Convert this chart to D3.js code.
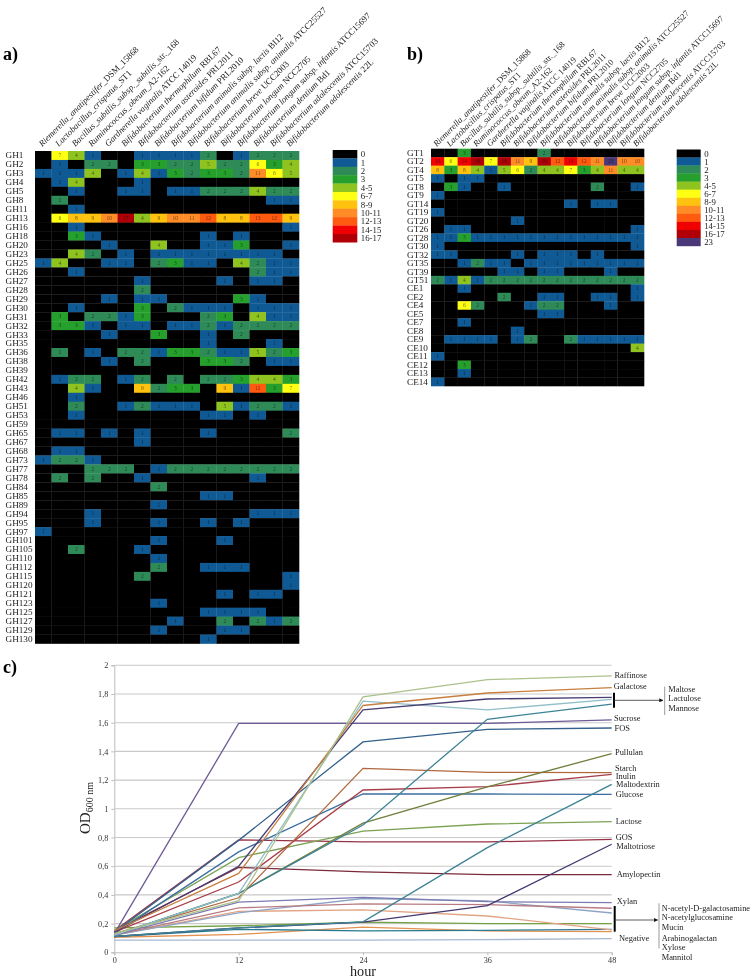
<!DOCTYPE html>
<html>
<head>
<meta charset="utf-8">
<title>Glycoside hydrolases, glycosyl transferases and growth curves</title>
<script src="https://cdn.jsdelivr.net/npm/d3@7"></script>
<style>
  html, body { margin: 0; padding: 0; background: #fff; }
  svg { display: block; filter: blur(0.3px); }
  text { font-family: "Liberation Serif", serif; fill: #222; }
</style>
</head>
<body>
<svg id="chart" width="754" height="979"></svg>
<script>
// species on the heatmap columns: italic part + plain strain part
const speciesItalic = [
  "Riemerella_anatipestifer", "Lactobacillus_crispatus", "Bacillus_subtilis_subsp._subtilis",
  "Ruminococcus_obeum", "Gardnerella vaginalis", "Bifidobacterium thermophilum",
  "Bifidobacterium asteroides", "Bifidobacterium bifidum", "Bifidobacterium animalis subsp. lactis",
  "Bifidobacterium animalis subsp. animalis", "Bifidobacterium breve", "Bifidobacterium longum",
  "Bifidobacterium longum subsp. infantis", "Bifidobacterium dentium", "Bifidobacterium adolescentis",
  "Bifidobacterium adolescentis"
];
const speciesStrain = [
  "_DSM_15868", "_ST1", "_str._168", "_A2-162", " ATCC 14019", " RBL67", " PRL2011", " PRL2010",
  " BI12", " ATCC25527", " UCC2003", " NCC2705", " ATCC15697", " Bd1", " ATCC15703", " 22L"
];

// panel a) GH families
const ghRows = [
  "GH1", "GH2", "GH3", "GH4", "GH5", "GH8", "GH11", "GH13", "GH16", "GH18", "GH20", "GH23", "GH25", "GH26",
  "GH27", "GH28", "GH29", "GH30", "GH31", "GH32", "GH33", "GH35", "GH36", "GH38", "GH39", "GH42", "GH43",
  "GH46", "GH51", "GH53", "GH59", "GH65", "GH67", "GH68", "GH73", "GH77", "GH78", "GH84", "GH85", "GH89",
  "GH94", "GH95", "GH97", "GH101", "GH105", "GH110", "GH112", "GH115", "GH120", "GH121", "GH123", "GH125",
  "GH127", "GH129", "GH130"
];
const ghValues = [
  [0,7,4,1,0,0,1,1,1,1,2,0,1,2,2,2],
  [0,1,0,2,2,0,3,3,2,2,5,2,2,6,3,4],
  [1,1,1,4,0,1,4,1,3,2,3,3,2,11,6,5],
  [0,1,4,0,0,0,1,0,0,0,0,0,0,0,0,0],
  [0,0,1,0,0,1,1,0,1,1,2,2,2,4,2,2],
  [0,2,0,0,0,0,0,0,0,0,0,0,0,0,1,1],
  [0,0,1,0,0,0,0,0,0,0,0,0,0,0,0,0],
  [0,6,8,9,10,17,4,9,10,11,12,8,8,13,12,9],
  [0,0,1,0,0,0,0,0,0,0,0,0,0,0,0,1],
  [0,0,3,1,0,0,0,0,0,0,1,0,1,0,0,0],
  [0,0,0,0,1,0,0,4,0,0,1,1,3,0,0,1],
  [0,0,4,2,0,1,0,1,1,1,1,1,1,1,1,0],
  [1,4,0,0,1,1,0,2,3,1,1,0,4,2,1,1],
  [0,0,1,0,0,0,0,0,0,0,0,0,0,2,1,1],
  [0,0,0,0,0,0,1,0,0,0,0,1,0,1,1,0],
  [0,0,0,0,0,0,2,0,0,0,0,0,0,0,0,0],
  [0,0,0,0,1,0,1,1,0,0,0,0,3,1,0,0],
  [0,0,1,0,0,0,3,0,2,1,1,1,0,1,1,1],
  [0,3,0,2,2,1,3,0,0,0,2,3,0,4,1,1],
  [0,3,3,1,0,1,1,0,1,1,2,1,2,2,2,2],
  [0,0,0,0,1,0,0,3,0,0,1,0,2,0,0,0],
  [0,0,0,0,0,0,0,0,0,0,1,0,0,0,1,0],
  [0,2,0,1,0,2,2,1,3,3,2,1,1,5,2,3],
  [0,0,0,0,1,0,2,0,0,0,3,3,2,0,1,1],
  [0,0,0,0,0,0,0,0,0,0,0,0,0,0,0,0],
  [0,1,2,2,0,1,2,0,2,0,2,2,3,4,4,3],
  [0,0,4,1,0,0,9,2,3,3,0,9,1,12,3,7],
  [0,0,1,0,0,0,0,0,0,0,0,0,0,0,0,0],
  [0,0,2,0,0,1,2,1,1,1,0,5,1,2,2,1],
  [0,0,1,0,0,0,0,0,0,0,1,1,0,1,0,0],
  [0,0,0,0,0,0,0,0,0,0,0,0,0,0,0,0],
  [0,1,1,0,1,0,1,0,0,0,1,0,0,0,0,2],
  [0,0,0,0,0,0,1,0,0,0,0,0,0,0,0,0],
  [0,1,1,0,0,0,0,0,0,0,0,0,0,0,0,0],
  [1,2,2,1,0,0,0,0,0,0,0,0,0,0,0,0],
  [0,0,0,2,2,2,0,1,2,2,2,2,2,2,2,2],
  [0,2,0,2,0,0,1,0,0,0,0,0,0,1,0,0],
  [0,0,0,0,0,0,0,2,0,0,0,0,0,0,0,0],
  [0,0,0,0,0,0,0,0,0,0,1,1,0,0,0,0],
  [0,0,0,0,0,0,0,1,0,0,0,0,0,0,0,0],
  [0,0,0,1,0,0,0,0,0,0,0,0,0,1,1,1],
  [0,0,0,1,0,0,0,1,0,0,1,0,1,0,0,0],
  [1,0,0,0,0,0,0,0,0,0,0,0,0,0,0,0],
  [0,0,0,0,0,0,0,1,0,0,0,1,0,0,0,0],
  [0,0,2,0,0,0,1,0,0,0,0,0,0,0,0,0],
  [0,0,0,0,0,0,0,1,0,0,0,0,0,0,0,0],
  [0,0,0,0,0,0,0,2,0,0,1,1,1,0,0,0],
  [0,0,0,0,0,0,2,0,0,0,0,0,0,0,0,1],
  [0,0,0,0,0,0,0,0,0,0,0,0,0,0,0,1],
  [0,0,0,0,0,0,0,0,0,0,0,1,0,1,1,0],
  [0,0,0,0,0,0,0,1,0,0,0,0,0,0,0,0],
  [0,0,0,0,0,0,0,0,0,0,1,1,1,1,0,0],
  [0,0,0,0,0,0,0,0,1,0,0,2,0,2,1,2],
  [0,0,0,0,0,0,0,1,0,0,0,1,1,0,0,0],
  [0,0,0,0,0,0,0,0,0,0,1,0,0,0,0,0]
];

// panel b) GT and CE families
const gtRows = [
  "GT1", "GT2", "GT4", "GT5", "GT8", "GT9", "GT14", "GT19", "GT20", "GT26", "GT28", "GT30", "GT32", "GT35",
  "GT39", "GT51", "CE1", "CE2", "CE4", "CE5", "CE7", "CE8", "CE9", "CE10", "CE11", "CE12", "CE13", "CE14"
];
const gtValues = [
  [0,0,3,0,0,0,0,0,2,0,0,0,0,0,0,0],
  [14,6,14,16,7,16,11,9,16,12,14,12,11,23,10,10],
  [8,3,8,4,1,5,6,2,4,4,7,3,4,11,4,4],
  [1,0,1,1,0,0,0,0,0,0,0,0,0,0,0,0],
  [0,3,1,0,0,1,0,0,0,0,0,0,2,0,0,1],
  [1,0,0,0,0,0,0,0,0,0,0,0,0,0,0,0],
  [0,0,0,0,0,0,0,0,0,0,1,0,1,1,0,0],
  [1,0,0,0,0,0,0,0,0,0,0,0,0,0,0,0],
  [0,0,0,0,0,0,1,0,0,0,0,0,0,0,0,0],
  [0,1,1,0,0,0,0,0,0,0,0,0,0,0,0,1],
  [1,1,3,1,1,1,1,1,1,1,1,1,1,1,1,1],
  [1,0,0,0,0,0,0,0,0,0,0,0,0,0,0,1],
  [1,1,0,0,0,0,1,0,1,1,1,0,1,0,0,0],
  [0,0,1,2,1,1,0,1,1,1,1,1,1,1,1,1],
  [0,0,0,0,0,1,1,0,1,1,0,0,0,1,0,0],
  [2,1,4,1,2,2,2,2,2,2,2,2,2,2,2,2],
  [0,0,1,0,0,0,0,0,0,0,0,0,0,0,0,1],
  [0,0,0,0,0,2,0,0,1,1,0,0,1,1,0,1],
  [0,0,6,2,0,0,0,1,2,2,0,0,0,1,0,0],
  [0,0,0,0,0,0,0,0,1,1,0,0,0,0,0,0],
  [0,0,1,0,0,0,0,0,0,0,0,0,0,0,0,0],
  [0,0,0,0,0,0,1,0,0,0,0,0,0,0,0,0],
  [0,1,1,1,1,0,1,2,0,0,2,1,1,1,1,1],
  [0,0,0,0,0,0,0,0,0,0,0,0,0,0,0,4],
  [1,0,0,0,0,0,0,0,0,0,0,0,0,0,0,0],
  [0,0,3,0,0,0,0,0,0,0,0,0,0,0,0,0],
  [0,0,1,0,0,0,0,0,0,0,0,0,0,0,0,0],
  [1,0,0,0,0,0,0,0,0,0,0,0,0,0,0,0]
];

// colour classes shared by both heatmaps
const classBreaks = [1, 2, 3, 4, 6, 8, 10, 12, 14, 16, 18];
const classColors = ["#000000", "#0f5a94", "#2e8b57", "#25a02c", "#8fc31f", "#ffff14", "#ffc20e",
  "#ff8c26", "#ff5a0f", "#f00000", "#b00005", "#4b3878"];
const legendA = ["0", "1", "2", "3", "4-5", "6-7", "8-9", "10-11", "12-13", "14-15", "16-17"];
const legendB = ["0", "1", "2", "3", "4-5", "6-7", "8-9", "10-11", "12-13", "14-15", "16-17", "23"];

// panel c) growth curves
const hours = [0, 12, 24, 36, 48];
const yTicks = [0, 0.2, 0.4, 0.6, 0.8, 1, 1.2, 1.4, 1.6, 1.8, 2];
const sugars = [
  "Negative", "Mannitol", "Xylose", "Arabinogalactan", "Mucin", "N-acetylglucosamine", "N-acetyl-D-galactosamine",
  "Xylan", "Amylopectin", "Maltotriose", "GOS", "Lactose", "Glucose", "Maltodextrin", "Inulin", "Starch", "Pullulan",
  "FOS", "Sucrose", "Mannose", "Lactulose", "Maltose", "Galactose", "Raffinose"
];
const sugarValues = [
  [0.085, 0.085, 0.085, 0.088, 0.095],
  [0.105, 0.125, 0.175, 0.149, 0.144],
  [0.11, 0.16, 0.15, 0.153, 0.16],
  [0.17, 0.185, 0.21, 0.2, 0.2],
  [0.12, 0.285, 0.295, 0.253, 0.156],
  [0.12, 0.275, 0.375, 0.358, 0.274],
  [0.12, 0.31, 0.337, 0.332, 0.307],
  [0.12, 0.35, 0.383, 0.353, 0.346],
  [0.15, 0.592, 0.56, 0.541, 0.541],
  [0.11, 0.17, 0.21, 0.325, 0.753],
  [0.15, 0.783, 0.77, 0.769, 0.787],
  [0.15, 0.66, 0.845, 0.894, 0.91],
  [0.13, 0.7, 1.103, 1.103, 1.1],
  [0.11, 0.17, 0.212, 0.729, 1.17],
  [0.14, 0.49, 1.131, 1.154, 1.24],
  [0.13, 0.38, 1.282, 1.254, 1.252],
  [0.12, 0.41, 0.9, 1.152, 1.384],
  [0.14, 0.78, 1.466, 1.554, 1.563],
  [0.13, 1.595, 1.595, 1.595, 1.62],
  [0.12, 0.41, 0.887, 1.624, 1.73],
  [0.12, 0.41, 1.75, 1.689, 1.763],
  [0.14, 0.6, 1.69, 1.765, 1.777],
  [0.15, 0.55, 1.72, 1.807, 1.844],
  [0.13, 0.36, 1.78, 1.9, 1.926]
];
const sugarColors = [
  "#a8b8d2", "#e29250", "#2a7a90", "#74a344", "#e2a484", "#8ea4c4", "#b87c84", "#7c7ab2",
  "#7a2a3a", "#46386e", "#963246", "#7ca254", "#3c6ea0", "#3c8294", "#a83e4a", "#b0683e",
  "#6f7f3c", "#34608c", "#6e5a96", "#3c8296", "#92bec8", "#4a3d73", "#c87f40", "#abc28c"
];

const svg = d3.select("#chart");
const color = d3.scaleThreshold().domain(classBreaks).range(classColors);

// one heatmap with its rotated species header and row labels
function drawHeatmap(rows, values, box, labelX, labelSize, headerSize) {
  const x = d3.scaleBand().domain(d3.range(speciesItalic.length)).range([box.left, box.right]);
  const y = d3.scaleBand().domain(rows).range([box.top, box.bottom]);
  const g = svg.append("g");

  rows.forEach(function (row, r) {
    const cells = g.append("g").selectAll("g")
      .data(values[r].map((v, c) => ({ v: v, c: c })))
      .enter().append("g");
    cells.append("rect")
      .attr("x", d => x(d.c))
      .attr("y", y(row))
      .attr("width", x.bandwidth() + 0.3)
      .attr("height", y.bandwidth() + 0.3)
      .attr("fill", d => color(d.v));
    cells.filter(d => d.v > 0).append("text")
      .attr("x", d => x(d.c) + x.bandwidth() / 2)
      .attr("y", y(row) + y.bandwidth() / 2 + 1.8)
      .attr("text-anchor", "middle")
      .attr("font-size", 5.5)
      .style("fill", "#000")
      .attr("opacity", 0.55)
      .text(d => d.v);
  });

  // row labels, left aligned like the original
  const axis = g.append("g")
    .attr("transform", "translate(" + box.left + ",0)")
    .call(d3.axisLeft(y).tickSize(0));
  axis.select(".domain").remove();
  axis.selectAll("text")
    .attr("x", labelX - box.left)
    .attr("text-anchor", "start")
    .attr("font-family", null)
    .attr("font-size", labelSize);

  // species names
  const header = g.selectAll(".species")
    .data(speciesItalic)
    .enter().append("text")
    .attr("class", "species")
    .attr("font-size", headerSize)
    .attr("transform", (d, i) => "translate(" + (x(i) + x.bandwidth() / 2 - 1) + "," + box.headerY + ") rotate(-45)");
  header.append("tspan").attr("font-style", "italic").text(d => d);
  header.append("tspan").text((d, i) => speciesStrain[i]);
}

function drawLegend(labels, box) {
  const y = d3.scaleBand().domain(labels).range([box.top, box.bottom]);
  const g = svg.append("g");
  g.selectAll("rect")
    .data(labels)
    .enter().append("rect")
    .attr("x", box.left)
    .attr("y", d => y(d))
    .attr("width", box.width)
    .attr("height", y.bandwidth() + 0.2)
    .attr("fill", (d, i) => classColors[i]);
  g.selectAll("text")
    .data(labels)
    .enter().append("text")
    .attr("x", box.left + box.width + 3.5)
    .attr("y", d => y(d) + y.bandwidth() / 2 + 3)
    .attr("font-size", 8.8)
    .text(d => d);
}

drawHeatmap(ghRows, ghValues, { left: 35, right: 299, top: 151, bottom: 643.5, headerY: 147 }, 5.5, 9.2, 8.8);
drawHeatmap(gtRows, gtValues, { left: 431, right: 644, top: 148.7, bottom: 386, headerY: 147 }, 407, 9.2, 8.6);
drawLegend(legendA, { left: 332.7, width: 24.6, top: 150, bottom: 242.3 });
drawLegend(legendB, { left: 676.7, width: 24, top: 149.5, bottom: 246 });

// panel letters
[["a)", 3, 60], ["b)", 407, 60], ["c)", 3, 673]].forEach(function (p) {
  svg.append("text").attr("x", p[1]).attr("y", p[2])
    .attr("font-size", 18).attr("font-weight", "bold").style("fill", "#000").text(p[0]);
});

// growth curves
const xLine = d3.scaleLinear().domain([0, 48]).range([114.3, 611.7]);
const yLine = d3.scaleLinear().domain([0, 2]).range([952.3, 665.3]);
const comma = d => String(d).replace(".", ",");

const yAxis = svg.append("g")
  .attr("transform", "translate(" + xLine(0) + ",0)")
  .call(d3.axisLeft(yLine).tickValues(yTicks).tickFormat(comma).tickSize(3).tickPadding(3));
const xAxis = svg.append("g")
  .attr("transform", "translate(0," + yLine(0) + ")")
  .call(d3.axisBottom(xLine).tickValues(hours).tickSize(3).tickPadding(2));
[yAxis, xAxis].forEach(function (a) {
  a.selectAll("path, line").attr("stroke", "#bdbdbd");
  a.selectAll("text").attr("font-family", null).attr("font-size", 8.2).style("fill", "#333");
});

svg.append("g").selectAll("line")
  .data(yTicks.slice(1))
  .enter().append("line")
  .attr("x1", xLine(0))
  .attr("x2", xLine(48))
  .attr("y1", d => yLine(d))
  .attr("y2", d => yLine(d))
  .attr("stroke", "#c9c9c9")
  .attr("stroke-width", 1.1);

const line = d3.line().x((d, i) => xLine(hours[i])).y(d => yLine(d));
svg.append("g").selectAll("path")
  .data(sugarValues)
  .enter().append("path")
  .attr("d", line)
  .attr("fill", "none")
  .attr("stroke", (d, i) => sugarColors[i])
  .attr("stroke-width", 1.3);

// axis titles
const yTitle = svg.append("text")
  .attr("transform", "translate(90,808) rotate(-90)")
  .attr("text-anchor", "middle")
  .attr("font-size", 15);
yTitle.append("tspan").text("OD");
yTitle.append("tspan").attr("font-size", 10).attr("dy", 3).text("600 nm");
svg.append("text")
  .attr("x", xLine(24)).attr("y", 976)
  .attr("text-anchor", "middle")
  .attr("font-size", 14.2)
  .text("hour");

// direct labels on the right
const lineLabels = [
  ["Raffinose", 614.5, 678], ["Galactose", 613.8, 688.8], ["Sucrose", 614, 720.8], ["FOS", 614.5, 730.5],
  ["Pullulan", 615, 754.8], ["Starch", 615, 770.8], ["Inulin", 615.7, 779], ["Maltodextrin", 616, 787],
  ["Glucose", 615.7, 796.5], ["Lactose", 615.7, 823.5], ["GOS", 615.7, 840], ["Maltotriose", 616.3, 849],
  ["Amylopectin", 616.7, 876.5], ["Xylan", 616.7, 903.5], ["Negative", 619, 941]
];
const groupLabels = [
  ["Maltose", 668.3, 691.5], ["Lactulose", 668.3, 701], ["Mannose", 668.3, 711],
  ["N-acetyl-D-galactosamine", 661.7, 910.5], ["N-acetylglucosamine", 661.7, 920], ["Mucin", 661.7, 929.8],
  ["Arabinogalactan", 661.7, 940.5], ["Xylose", 661.7, 950], ["Mannitol", 661.7, 960]
];
svg.append("g").selectAll("text")
  .data(lineLabels.concat(groupLabels))
  .enter().append("text")
  .attr("x", d => d[1])
  .attr("y", d => d[2])
  .attr("font-size", 8.4)
  .text(d => d[0]);

// brackets and arrows for the grouped sugars
svg.append("defs").append("marker")
  .attr("id", "arrow")
  .attr("viewBox", "0 0 6 6")
  .attr("refX", 5.5).attr("refY", 3)
  .attr("markerWidth", 5).attr("markerHeight", 5)
  .attr("orient", "auto")
  .append("path").attr("d", "M0,0L6,3L0,6Z").attr("fill", "#111");

[
  { x: 614, y1: 692.7, y2: 707.7, ay: 700.3, ax: 663, gx: 664.7, g1: 686.7, g2: 715 },
  { x: 614.7, y1: 906, y2: 931.7, ay: 920, ax: 657.7, gx: 659, g1: 903.3, g2: 948.3 }
].forEach(function (b) {
  svg.append("line").attr("x1", b.x).attr("x2", b.x).attr("y1", b.y1).attr("y2", b.y2)
    .attr("stroke", "#000").attr("stroke-width", 2);
  svg.append("line").attr("x1", b.x).attr("x2", b.ax).attr("y1", b.ay).attr("y2", b.ay)
    .attr("stroke", "#333").attr("stroke-width", 0.8).attr("marker-end", "url(#arrow)");
  svg.append("line").attr("x1", b.gx).attr("x2", b.gx).attr("y1", b.g1).attr("y2", b.g2)
    .attr("stroke", "#999").attr("stroke-width", 1);
});
</script>
</body>
</html>
